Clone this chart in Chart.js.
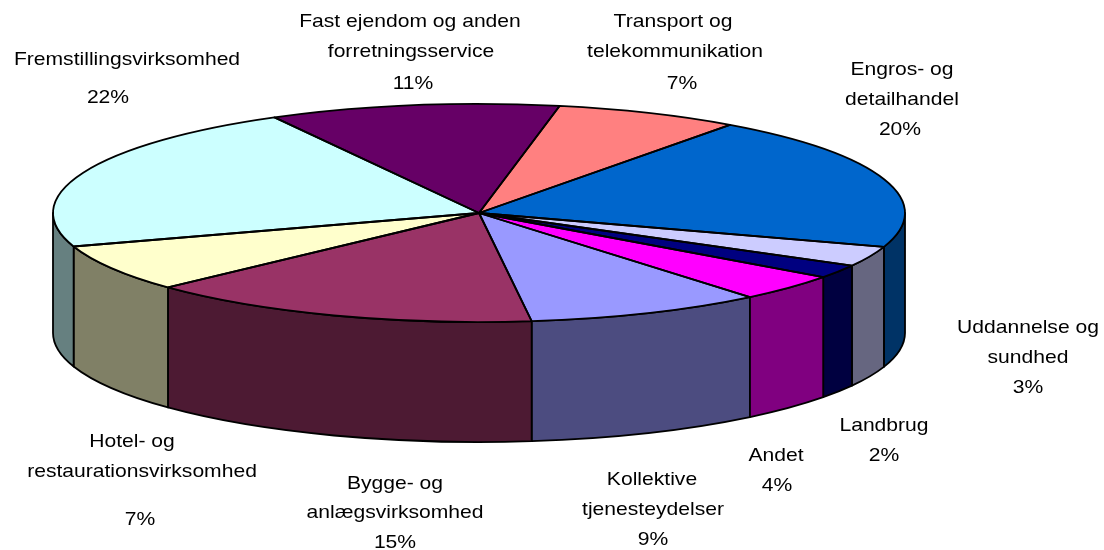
<!DOCTYPE html>
<html><head><meta charset="utf-8">
<script src="https://cdn.jsdelivr.net/npm/chart.js@4"></script>
<style>html,body{margin:0;padding:0;background:#fff;overflow:hidden}#wrap{width:1104px;height:550px;position:relative}</style>
</head><body><div id="wrap"><canvas id="c"></canvas></div>
<script>
// ---- data ----
const categories = ['Kollektive tjenesteydelser','Bygge- og anlægsvirksomhed','Hotel- og restaurationsvirksomhed','Fremstillingsvirksomhed','Fast ejendom og anden forretningsservice','Transport og telekommunikation','Engros- og detailhandel','Uddannelse og sundhed','Landbrug','Andet'];
const shares = [9, 15, 7, 22, 11, 7, 20, 3, 2, 4];
const pctLabels = ['9%','15%','7%','22%','11%','7%','20%','3%','2%','4%'];
const labelLines = [['Kollektive','tjenesteydelser'],['Bygge- og','anlægsvirksomhed'],['Hotel- og','restaurationsvirksomhed'],['Fremstillingsvirksomhed'],['Fast ejendom og anden','forretningsservice'],['Transport og','telekommunikation'],['Engros- og','detailhandel'],['Uddannelse og','sundhed'],['Landbrug'],['Andet']];

// ---- style / layout ----
const topColors  = ['#9999FF','#993366','#FFFFCC','#CCFFFF','#660066','#FF8080','#0066CC','#CCCCFF','#000080','#FF00FF'];
const sideColors = ['#4C4C80','#4D1A33','#808066','#668080','#330033','#804040','#003366','#666680','#000040','#800080'];
const GEO = {cx:479, cy:213, rx:426, ry:109, depth:120};
const labelLayout = [
  [[652,480],[653,510],[653,540]],
  [[395,484],[395,513],[395,543]],
  [[132,442],[142,472],[140,520]],
  [[127,60],[108,98]],
  [[410,22],[411,52],[413,84]],
  [[673,22],[675,52],[682,84]],
  [[902,70],[902,100],[900,130]],
  [[1028,328],[1028,358],[1028,388]],
  [[884,426],[884,456]],
  [[776,456],[777,486]]
];
const FONT = '19px "Liberation Sans", Arial, sans-serif';
const FONT_SX = 1.11;
const EDGE_W = 1.8;

const TAU = Math.PI * 2;
const pie3d = {
  id: 'pie3d',
  beforeDatasetsDraw(chart) {
    const ctx = chart.ctx;
    const meta = chart.getDatasetMeta(0);
    const g0 = meta.data[0].getProps(['x','y','outerRadius'], true);
    const x = g0.x, y = g0.y, R = g0.outerRadius;
    const sx = GEO.rx / R, sy = GEO.ry / R;
    const base = ctx.getTransform();
    chart.$p3 = {x, y, R, sx, sy, base};
    ctx.save();
    ctx.translate(GEO.cx, GEO.cy); ctx.scale(sx, sy); ctx.translate(-x, -y);
    const dL = GEO.depth / sy;
    meta.data.forEach((el, i) => {
      const p = el.getProps(['startAngle','endAngle'], true);
      let a = p.startAngle, b = p.endAngle;
      const k = Math.floor(a / TAU); a -= k * TAU; b -= k * TAU;
      [[0, Math.PI], [TAU, TAU + Math.PI]].forEach(([lo, hi]) => {
        const s = Math.max(a, lo), e = Math.min(b, hi);
        if (e > s + 1e-6) {
          ctx.beginPath();
          ctx.arc(x, y, R, s, e, false);
          ctx.lineTo(x + R * Math.cos(e), y + R * Math.sin(e) + dL);
          ctx.arc(x, y + dL, R, e, s, true);
          ctx.closePath();
          ctx.save();
          ctx.setTransform(base);
          ctx.fillStyle = sideColors[i];
          ctx.fill();
          ctx.lineWidth = EDGE_W; ctx.strokeStyle = '#000'; ctx.lineJoin = 'round';
          ctx.stroke();
          ctx.restore();
        }
      });
    });
  },
  afterDatasetsDraw(chart) {
    const ctx = chart.ctx;
    const {x, y, R, base} = chart.$p3;
    const meta = chart.getDatasetMeta(0);
    meta.data.forEach((el) => {
      const p = el.getProps(['startAngle','endAngle'], true);
      ctx.beginPath();
      ctx.moveTo(x, y);
      ctx.arc(x, y, R, p.startAngle, p.endAngle, false);
      ctx.closePath();
      ctx.save();
      ctx.setTransform(base);
      ctx.lineWidth = EDGE_W; ctx.strokeStyle = '#000'; ctx.lineJoin = 'round';
      ctx.stroke();
      ctx.restore();
    });
    ctx.restore();
  },
  afterDraw(chart) {
    const ctx = chart.ctx;
    ctx.save();
    ctx.font = FONT; ctx.fillStyle = '#000';
    ctx.textAlign = 'center'; ctx.textBaseline = 'middle';
    labelLines.forEach((lines, i) => {
      const all = lines.concat([pctLabels[i]]);
      all.forEach((t, j) => {
        const pos = labelLayout[i][j];
        ctx.save();
        ctx.translate(pos[0], pos[1]);
        ctx.scale(FONT_SX, 1);
        ctx.fillText(t, 0, 0);
        ctx.restore();
      });
    });
    ctx.restore();
  }
};

new Chart(document.getElementById('c'), {
  type: 'pie',
  data: {
    labels: categories,
    datasets: [{ data: shares, backgroundColor: topColors, borderWidth: 0, hoverOffset: 0 }]
  },
  options: {
    responsive: true,
    maintainAspectRatio: false,
    animation: false,
    events: [],
    rotation: 140.5,
    layout: { padding: 0 },
    plugins: { legend: { display: false }, tooltip: { enabled: false } }
  },
  plugins: [pie3d]
});
</script>
</body></html>
